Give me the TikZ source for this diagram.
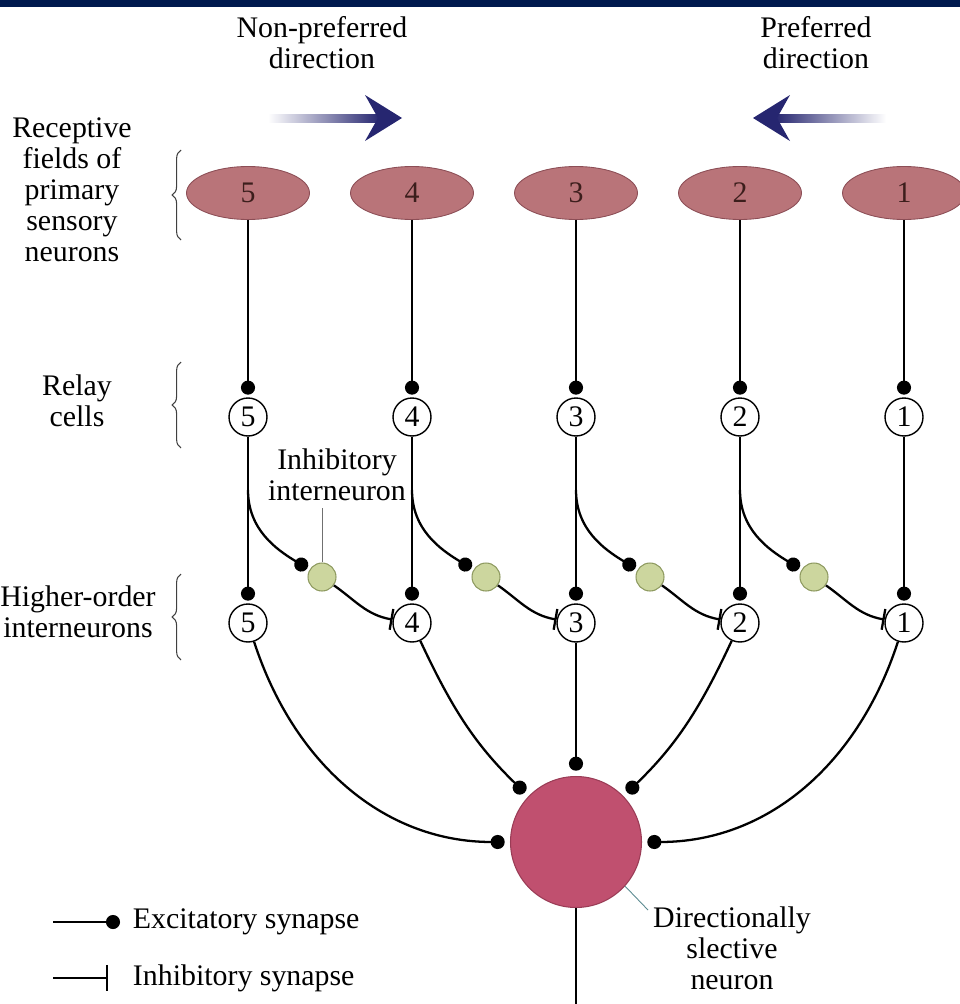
\documentclass[tikz,border=0pt]{standalone}
\usepackage{fontspec}
\setmainfont{Liberation Serif}
\usetikzlibrary{arrows.meta,shapes.geometric,decorations.pathreplacing}
\definecolor{barnavy}{HTML}{001A4E}
\definecolor{arrownavy}{HTML}{262670}
\definecolor{fieldrose}{HTML}{B97479}
\definecolor{fieldedge}{HTML}{8C4E56}
\definecolor{fieldtext}{HTML}{3C1E1C}
\definecolor{somarose}{HTML}{C0506F}
\definecolor{somaedge}{HTML}{9A3C56}
\definecolor{interngreen}{HTML}{CCD69E}
\definecolor{interedge}{HTML}{8E9A60}
\definecolor{leadgray}{HTML}{707070}
\definecolor{leadteal}{HTML}{5A8A90}
\tikzset{
  field/.style={ellipse,fill=fieldrose,draw=fieldedge,line width=0.5pt,
    minimum width=2.46cm,minimum height=1.06cm,inner sep=0pt,text=fieldtext},
  cell/.style={circle,draw,line width=0.8pt,fill=white,minimum size=0.76cm,inner sep=0pt},
  inter/.style={circle,draw=interedge,line width=0.6pt,fill=interngreen,
    minimum size=0.56cm,inner sep=0pt},
  soma/.style={circle,fill=somarose,draw=somaedge,line width=0.6pt,
    minimum size=2.62cm,inner sep=0pt},
  exc/.style={-{Circle[length=8pt]},shorten >=1.5pt},
  inh/.style={-{Bar[width=12pt]}},
  brc/.style={decorate,decoration={brace,amplitude=5pt},line width=0.6pt,black!75},
  lead/.style={line width=0.5pt,leadgray},
  txt/.style={align=center}
}
\begin{document}
\begin{tikzpicture}[x=0.02cm,y=0.02cm,line width=1.3pt,
    font=\rmfamily\fontsize{17}{17.6}\selectfont]
  \useasboundingbox (0,0) rectangle (960,-1004);
  \fill[barnavy] (0,0) rectangle (960,-7);
  % directions of motion
  \draw
    (322,-43) node[txt] (np){Non-preferred\\direction}
    (816,-43) node[txt] (pd){Preferred\\direction};
  \shade[left color=white,right color=arrownavy] (268,-114) rectangle (380,-122);
  \fill[arrownavy] (402,-118) -- (365,-95) -- (378,-118) -- (365,-141) -- cycle;
  \shade[left color=arrownavy,right color=white] (775,-114) rectangle (886,-122);
  \fill[arrownavy] (753,-118) -- (790,-95) -- (777,-118) -- (790,-141) -- cycle;
  % row labels
  \draw
    (72,-190) node[txt] (rf){Receptive\\fields of\\primary\\sensory\\neurons}
    (77,-401) node[txt] (rc){Relay\\cells}
    (78,-612) node[txt] (ho){Higher-order\\interneurons};
  \draw[brc] (181,-240) -- (181,-150);
  \draw[brc] (181,-448) -- (181,-362);
  \draw[brc] (181,-660) -- (181,-574);
  % receptive fields
  \draw
    (248,-193) node[field] (f5){5}
    (412,-193) node[field] (f4){4}
    (576,-193) node[field] (f3){3}
    (740,-193) node[field] (f2){2}
    (904,-193) node[field] (f1){1};
  % relay cells
  \draw
    (248,-417) node[cell] (r5){5}
    (412,-417) node[cell] (r4){4}
    (576,-417) node[cell] (r3){3}
    (740,-417) node[cell] (r2){2}
    (904,-417) node[cell] (r1){1};
  % higher-order interneurons
  \draw
    (248,-623) node[cell] (h5){5}
    (412,-623) node[cell] (h4){4}
    (576,-623) node[cell] (h3){3}
    (740,-623) node[cell] (h2){2}
    (904,-623) node[cell] (h1){1};
  % inhibitory interneurons
  \draw
    (322,-577) node[inter] (g5){}
    (486,-577) node[inter] (g4){}
    (650,-577) node[inter] (g3){}
    (814,-577) node[inter] (g2){};
  \coordinate (b5) at (248,-490);
  \coordinate (b4) at (412,-490);
  \coordinate (b3) at (576,-490);
  \coordinate (b2) at (740,-490);
  \node[soma] (dn) at (576,-842) {};
  \begin{scope}[exc]
    \draw (f5) -- (r5);
    \draw (f4) -- (r4);
    \draw (f3) -- (r3);
    \draw (f2) -- (r2);
    \draw (f1) -- (r1);
    \draw (r5) -- (h5);
    \draw (r4) -- (h4);
    \draw (r3) -- (h3);
    \draw (r2) -- (h2);
    \draw (r1) -- (h1);
    \draw (b5) to[out=-90,in=149] (g5);
    \draw (b4) to[out=-90,in=149] (g4);
    \draw (b3) to[out=-90,in=149] (g3);
    \draw (b2) to[out=-90,in=149] (g2);
    \draw[shorten >=3pt] (h5) to[out=-72,in=180] (dn.180);
    \draw[shorten >=3pt] (h4) to[out=-65,in=136] (dn.136);
    \draw[shorten >=3pt] (h3) -- (dn.90);
    \draw[shorten >=3pt] (h2) to[out=-115,in=44] (dn.44);
    \draw[shorten >=3pt] (h1) to[out=-108,in=0] (dn.0);
  \end{scope}
  \begin{scope}[inh]
    \draw (g5) to[out=-35,in=170] (h4);
    \draw (g4) to[out=-35,in=170] (h3);
    \draw (g3) to[out=-35,in=170] (h2);
    \draw (g2) to[out=-35,in=170] (h1);
  \end{scope}
  \coordinate (ax) at (576,-1004);
  \draw (dn.south) -- (ax);
  % callouts
  \draw (337,-475) node[txt] (il){Inhibitory\\interneuron};
  \draw[lead] (g5.north) -- (g5.north |- il.south);
  \draw (732,-948) node[txt] (ds){Directionally\\slective\\neuron};
  \coordinate (dl) at (648,-910);
  \draw[lead,leadteal] (dn.-42) -- (dl);
  % legend
  \coordinate (ea) at (53,-922);
  \coordinate (ia) at (53,-978);
  \draw
    (126,-922) node[txt,anchor=west] (et){Excitatory synapse}
    (126,-978) node[txt,anchor=west] (it){Inhibitory synapse};
  \draw[exc,shorten >=3.4pt] (ea) -- (et.west);
  \draw[-{Bar[width=15pt]},shorten >=10pt] (ia) -- (it.west);
\end{tikzpicture}
\end{document}
